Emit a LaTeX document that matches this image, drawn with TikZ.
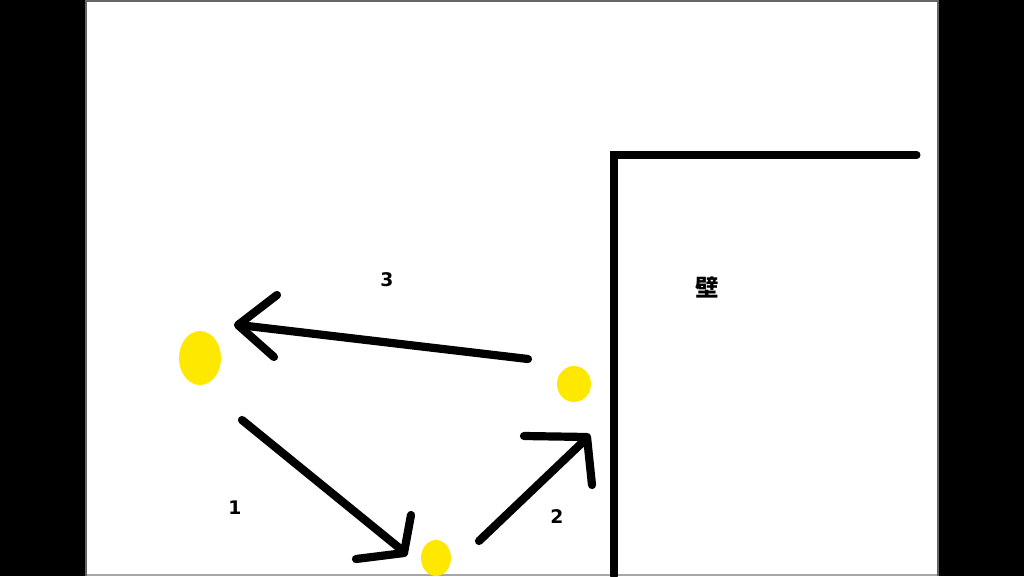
\documentclass[tikz,border=0pt]{standalone}
\usepackage{fontspec}
\setmainfont{DejaVu Sans}
\newfontfamily\cjk{Noto Sans CJK JP}
\definecolor{ballyellow}{RGB}{255,232,0}
\begin{document}
\begin{tikzpicture}[x=0.03cm, y=-0.03cm]
			%%%%% START %%%%%
			\useasboundingbox (0, 0) rectangle (1024, 576);
			
			\fill[black] (0, 0) rectangle (85, 576);
			\fill[black] (938, 0) rectangle (1024, 576);
			\fill[black!60] (85, 0) rectangle (87, 576);
			\fill[black!60] (937, 0) rectangle (939, 576);
			\fill[black!60] (87, 0) rectangle (937, 2);
			\fill[black!35] (87, 574) rectangle (937, 576);
			
			% wall
			\draw[line width=6pt, line cap=round] (614, 576) -- (614, 155) -- (917, 155);
			\node[font=\cjk\bfseries\fontsize{20pt}{20pt}\selectfont] (kabe) at (707, 287) {壁};
			
			% balls
			\fill[ballyellow] (200, 358) ellipse (21 and 27);
			\fill[ballyellow] (574, 384) ellipse (17 and 18);
			\fill[ballyellow] (436, 558) ellipse (15 and 18);
			
			% 1
			\draw[line width=7pt, line cap=round] (242, 420) -- (403, 551);
			\draw[line width=7pt, line cap=round, line join=round] (411, 515) -- (404, 553) -- (356, 559);
			\node[font=\bfseries\fontsize{16pt}{16pt}\selectfont] (one) at (235, 508) {1};
			
			% 2
			\draw[line width=7pt, line cap=round] (479, 541) -- (586, 439);
			\draw[line width=7pt, line cap=round, line join=round] (524, 436) -- (587, 437) -- (592, 485);
			\node[font=\bfseries\fontsize{16pt}{16pt}\selectfont] (two) at (557, 517) {2};
			
			% 3
			\draw[line width=7pt, line cap=round] (528, 359) -- (239, 325);
			\draw[line width=7pt, line cap=round, line join=round] (277, 295) -- (238, 325) -- (274, 357);
			\node[font=\bfseries\fontsize{16pt}{16pt}\selectfont] (three) at (387, 280) {3};
			
			%%%%% END %%%%%
		\end{tikzpicture}
\end{document}
